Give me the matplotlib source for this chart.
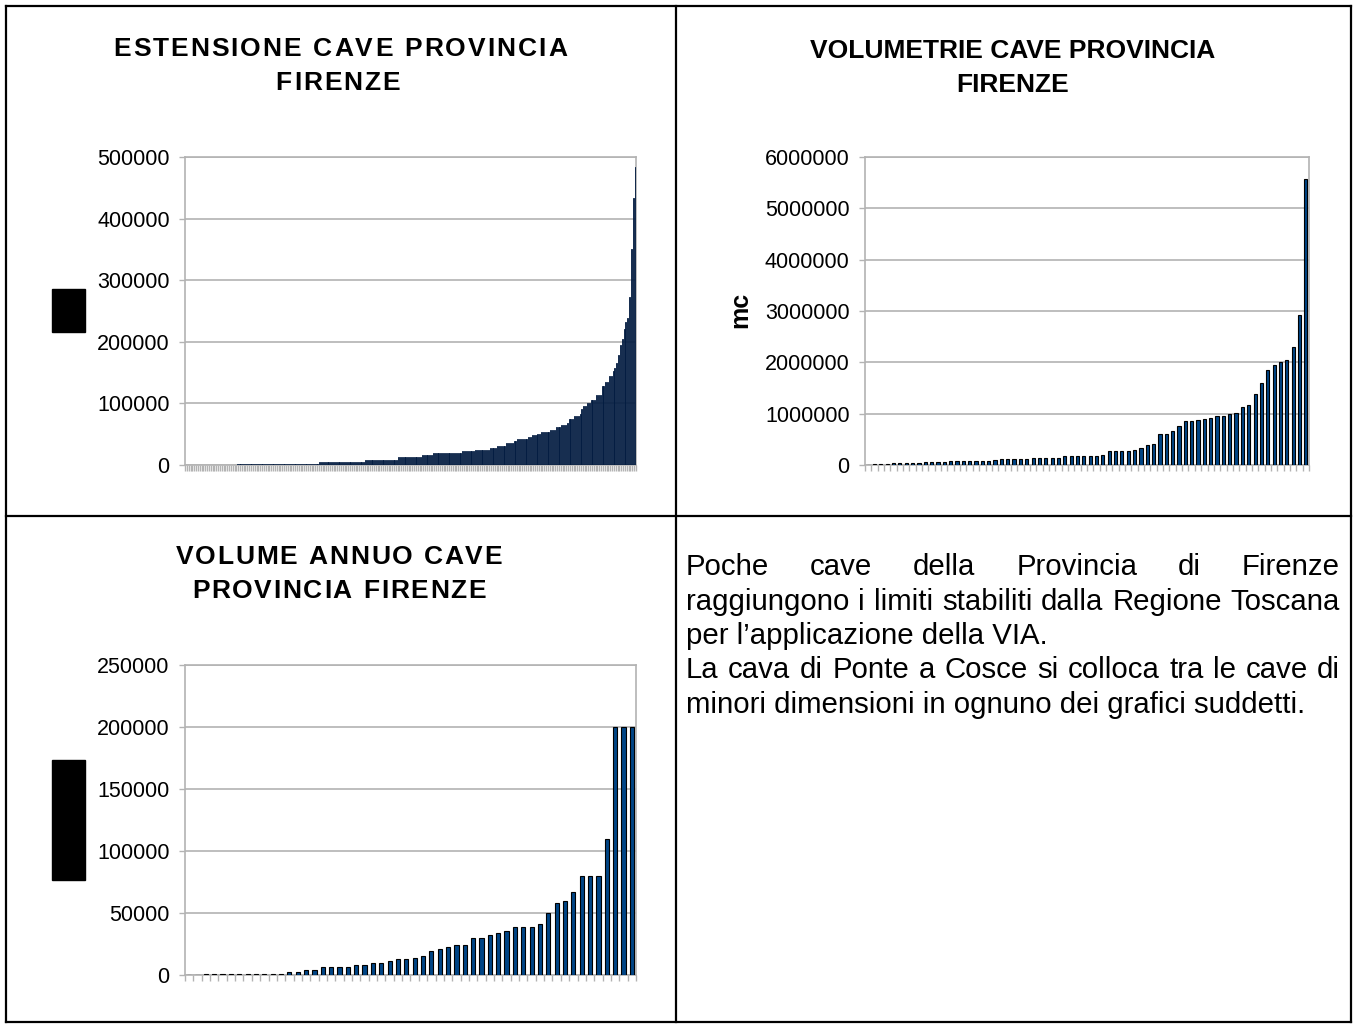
import numpy as np
import matplotlib
matplotlib.use("Agg")
import matplotlib.pyplot as plt
from matplotlib.patches import Rectangle
from matplotlib.lines import Line2D

plt.rcParams['font.family'] = ['Liberation Sans', 'DejaVu Sans']

# --- data ----------------------------------------------------------------
# ESTENSIONE: sorted areas, given as plateau levels and how many bars sit on each
ext_levels = [0, 1500, 4300, 7500, 13000, 16000, 19000, 22000, 24000, 27500,
              31000, 35000, 39000, 42000, 45000, 49000, 50000, 53000, 57000,
              62000, 65000, 68000, 74000, 79000, 82000, 91000, 96000, 101000,
              106000, 113000, 128000, 134000, 144000, 153000, 157000, 165000,
              179000, 195000, 204000, 220000, 232000, 238000, 272000, 350000,
              434000, 483000]
ext_counts = [28, 45, 25, 18, 13, 6, 16, 7, 8, 4,
              5, 4, 2, 6, 2, 3, 2, 5, 3,
              3, 3, 1, 3, 3, 1, 1, 2, 2,
              3, 3, 2, 2, 2, 1, 1, 1,
              1, 1, 1, 1, 1, 1, 1, 1,
              1, 1]
ext_values = np.repeat(ext_levels, ext_counts)

# VOLUMETRIE (mc)
vol_values = [0, 12000, 12000, 12000, 32000, 32000, 32000, 32000, 32000,
              50000, 50000, 50000, 50000, 70000, 70000, 70000, 70000, 70000,
              78000, 70000, 90000, 108000, 108000, 108000, 108000, 108000,
              128000, 128000, 128000, 128000, 128000, 168000, 168000, 168000,
              180000, 180000, 180000, 200000, 270000, 270000, 270000, 270000,
              290000, 340000, 380000, 410000, 600000, 610000, 660000, 760000,
              860000, 860000, 880000, 900000, 920000, 950000, 950000, 990000,
              1010000, 1130000, 1160000, 1390000, 1600000, 1860000, 1950000,
              2010000, 2050000, 2290000, 2920000, 5580000]

# VOLUME ANNUO
ann_values = [0, 0, 800, 800, 800, 800, 800, 800, 800, 800, 800, 800,
              2400, 2400, 4000, 4000, 6200, 6200, 6200, 6200, 7900, 7900,
              9500, 9500, 11100, 12800, 12600, 13400, 15300, 19400, 20700,
              22600, 24200, 24200, 29800, 29800, 32000, 33900, 35500, 38700,
              38700, 38700, 41100, 49700, 57800, 59700, 66700, 79800, 79800,
              79800, 109700, 200000, 200000, 200000]

ext_ticks = [0, 100000, 200000, 300000, 400000, 500000]
vol_ticks = [0, 1000000, 2000000, 3000000, 4000000, 5000000, 6000000]
ann_ticks = [0, 50000, 100000, 150000, 200000, 250000]

paragraph = [
    ("Poche cave della Provincia di Firenze", True),
    ("raggiungono i limiti stabiliti dalla Regione Toscana", True),
    ("per l\u2019applicazione della VIA.", False),
    ("La cava di Ponte a Cosce si colloca tra le cave di", True),
    ("minori dimensioni in ognuno dei grafici suddetti.", False),
]

W, H = 1357, 1024
BAR = '#004586'
GRID = '#b3b3b3'
TXT = 21.2


def fx(px):
    return px / W


def fy(py):
    return 1 - py / H


def bar_chart(fig, rect, values, ticks, lw, edge='black'):
    x0, y0, x1, y1 = rect
    ax = fig.add_axes([fx(x0), fy(y1), fx(x1 - x0), (y1 - y0) / H])
    n = len(values)
    ax.bar(np.arange(n), values, width=0.5, color=BAR, edgecolor=edge,
           linewidth=lw, zorder=3)
    ax.set_xlim(-0.5, n - 0.5)
    ax.set_ylim(ticks[0], ticks[-1])
    ax.set_yticks(ticks)
    ax.set_yticklabels([str(t) for t in ticks], fontsize=15.5)
    ax.set_xticks(np.arange(n + 1) - 0.5)
    ax.set_xticklabels([])
    ax.grid(axis='y', color=GRID, linewidth=1.2, zorder=0)
    ax.tick_params(axis='both', direction='out', color=GRID, length=4,
                   width=1)
    ax.tick_params(axis='y', pad=7)
    for s in ax.spines.values():
        s.set_color(GRID)
        s.set_linewidth(1.2)
    return ax


def spaced_text(fig, renderer, cx, cy, s, size, track):
    # bold title drawn letter by letter with extra tracking (px)
    arts = [fig.text(0, fy(cy), ch, fontsize=size, fontweight='bold',
                     ha='left', va='center') for ch in s]
    widths = []
    for a, ch in zip(arts, s):
        if ch == ' ':
            a.set_text('n')
            widths.append(a.get_window_extent(renderer).width * 0.5)
            a.set_text(' ')
        else:
            widths.append(a.get_window_extent(renderer).width)
    total = sum(widths) + track * (len(s) - 1)
    x = cx - total / 2
    for a, w in zip(arts, widths):
        a.set_x(fx(x))
        x += w + track


fig = plt.figure(figsize=(W / 100, H / 100), dpi=100)

bar_chart(fig, (185, 157, 636, 465), ext_values, ext_ticks, 0.6, '#03183a')
bar_chart(fig, (865, 157, 1309, 465), vol_values, vol_ticks, 0.8)
bar_chart(fig, (185, 665, 636, 975), ann_values, ann_ticks, 0.8)

fig.canvas.draw()
renderer = fig.canvas.get_renderer()

# titles
spaced_text(fig, renderer, 340, 49, "ESTENSIONE CAVE PROVINCIA", 19, 2.0)
spaced_text(fig, renderer, 338, 83, "FIRENZE", 19, 2.0)
tkw = dict(ha='center', va='center', fontsize=19, fontweight='bold')
fig.text(fx(1013), fy(51), "VOLUMETRIE CAVE PROVINCIA", **tkw)
fig.text(fx(1013), fy(85), "FIRENZE", **tkw)
spaced_text(fig, renderer, 339, 557, "VOLUME ANNUO CAVE", 19, 1.7)
spaced_text(fig, renderer, 339, 591, "PROVINCIA FIRENZE", 19, 1.7)

fig.text(fx(740), fy(310), "mc", rotation=90, ha='center', va='center',
         fontsize=18, fontweight='bold')

# hidden axis labels (black boxes)
fig.patches.append(Rectangle((fx(52), fy(332)), fx(33), 43 / H,
                             transform=fig.transFigure, color='black'))
fig.patches.append(Rectangle((fx(52), fy(880)), fx(33), 120 / H,
                             transform=fig.transFigure, color='black'))

# table borders
blw = 1.6
for xs, ys in [((6, 1351), (6, 6)), ((6, 1351), (1022, 1022)),
               ((6, 6), (6, 1022)), ((1351, 1351), (6, 1022)),
               ((676, 676), (6, 1022)), ((6, 1351), (516, 516))]:
    fig.add_artist(Line2D([fx(xs[0]), fx(xs[1])], [fy(ys[0]), fy(ys[1])],
                          transform=fig.transFigure, color='black',
                          linewidth=blw))

# justified paragraph
left, right = 686, 1340
probe = fig.text(0, 0, "n", fontsize=TXT)
space_w = probe.get_window_extent(renderer).width * 0.5
probe.remove()
for i, (line, justify) in enumerate(paragraph):
    y = fy(567 + 34.5 * i)
    if not justify:
        fig.text(fx(left), y, line, fontsize=TXT, va='center', ha='left')
        continue
    words = line.split()
    arts = [fig.text(0, y, w, fontsize=TXT, va='center', ha='left')
            for w in words]
    widths = [a.get_window_extent(renderer).width for a in arts]
    gap = (right - left - sum(widths)) / (len(words) - 1)
    gap = max(gap, space_w)
    x = left
    for a, w in zip(arts, widths):
        a.set_x(fx(x))
        x += w + gap

fig.savefig('out.png', dpi=100)
